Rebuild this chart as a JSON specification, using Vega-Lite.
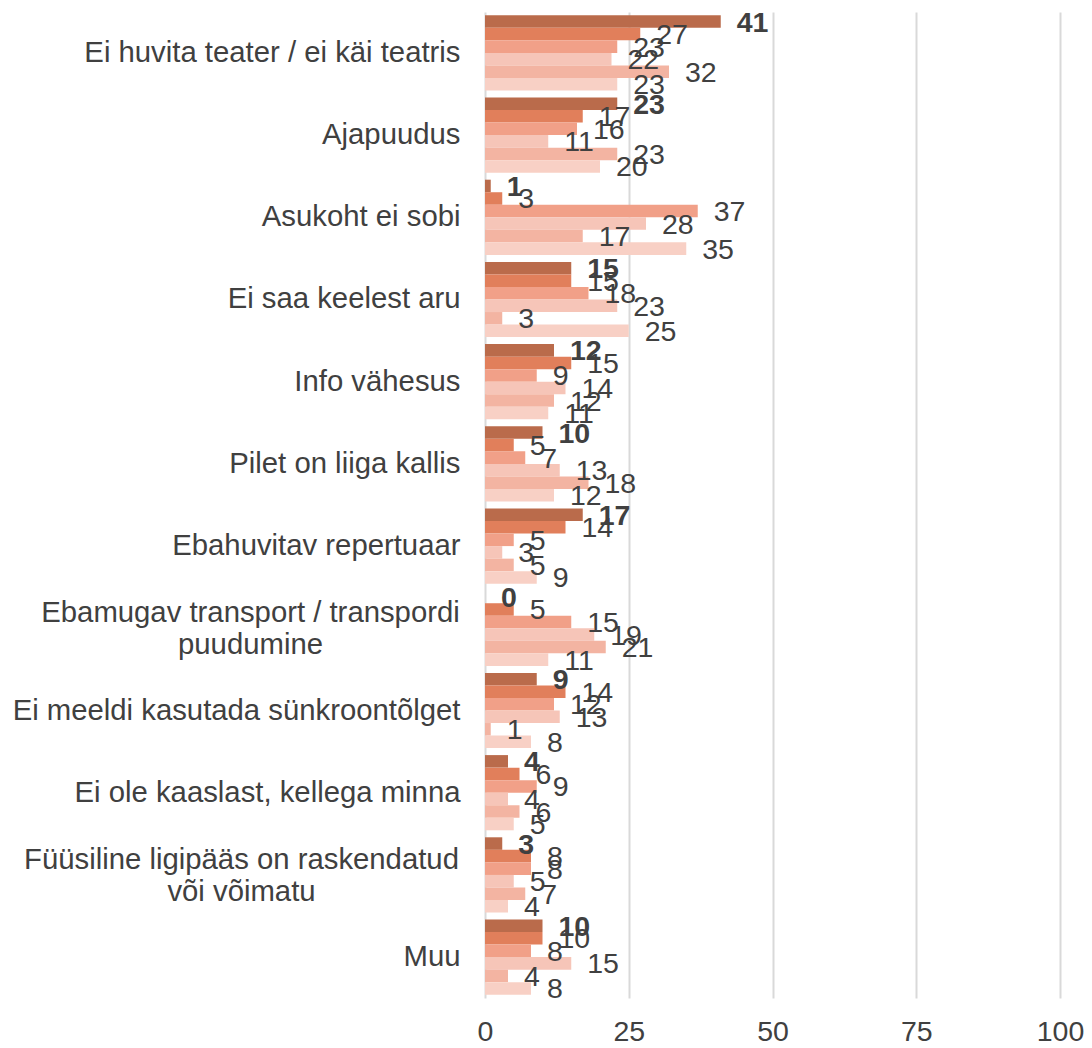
{
  "$schema": "https://vega.github.io/schema/vega-lite/v6.json",
  "width": 575,
  "height": 986,
  "autosize": "none",
  "padding": {"left": 485, "top": 12, "right": 32, "bottom": 50},
  "background": "white",
  "data": {"values": [
    {"category": "Ei huvita teater / ei käi teatris", "series": "S1", "value": 41},
    {"category": "Ei huvita teater / ei käi teatris", "series": "S2", "value": 27},
    {"category": "Ei huvita teater / ei käi teatris", "series": "S3", "value": 23},
    {"category": "Ei huvita teater / ei käi teatris", "series": "S4", "value": 22},
    {"category": "Ei huvita teater / ei käi teatris", "series": "S5", "value": 32},
    {"category": "Ei huvita teater / ei käi teatris", "series": "S6", "value": 23},
    {"category": "Ajapuudus", "series": "S1", "value": 23},
    {"category": "Ajapuudus", "series": "S2", "value": 17},
    {"category": "Ajapuudus", "series": "S3", "value": 16},
    {"category": "Ajapuudus", "series": "S4", "value": 11},
    {"category": "Ajapuudus", "series": "S5", "value": 23},
    {"category": "Ajapuudus", "series": "S6", "value": 20},
    {"category": "Asukoht ei sobi", "series": "S1", "value": 1},
    {"category": "Asukoht ei sobi", "series": "S2", "value": 3},
    {"category": "Asukoht ei sobi", "series": "S3", "value": 37},
    {"category": "Asukoht ei sobi", "series": "S4", "value": 28},
    {"category": "Asukoht ei sobi", "series": "S5", "value": 17},
    {"category": "Asukoht ei sobi", "series": "S6", "value": 35},
    {"category": "Ei saa keelest aru", "series": "S1", "value": 15},
    {"category": "Ei saa keelest aru", "series": "S2", "value": 15},
    {"category": "Ei saa keelest aru", "series": "S3", "value": 18},
    {"category": "Ei saa keelest aru", "series": "S4", "value": 23},
    {"category": "Ei saa keelest aru", "series": "S5", "value": 3},
    {"category": "Ei saa keelest aru", "series": "S6", "value": 25},
    {"category": "Info vähesus", "series": "S1", "value": 12},
    {"category": "Info vähesus", "series": "S2", "value": 15},
    {"category": "Info vähesus", "series": "S3", "value": 9},
    {"category": "Info vähesus", "series": "S4", "value": 14},
    {"category": "Info vähesus", "series": "S5", "value": 12},
    {"category": "Info vähesus", "series": "S6", "value": 11},
    {"category": "Pilet on liiga kallis", "series": "S1", "value": 10},
    {"category": "Pilet on liiga kallis", "series": "S2", "value": 5},
    {"category": "Pilet on liiga kallis", "series": "S3", "value": 7},
    {"category": "Pilet on liiga kallis", "series": "S4", "value": 13},
    {"category": "Pilet on liiga kallis", "series": "S5", "value": 18},
    {"category": "Pilet on liiga kallis", "series": "S6", "value": 12},
    {"category": "Ebahuvitav repertuaar", "series": "S1", "value": 17},
    {"category": "Ebahuvitav repertuaar", "series": "S2", "value": 14},
    {"category": "Ebahuvitav repertuaar", "series": "S3", "value": 5},
    {"category": "Ebahuvitav repertuaar", "series": "S4", "value": 3},
    {"category": "Ebahuvitav repertuaar", "series": "S5", "value": 5},
    {"category": "Ebahuvitav repertuaar", "series": "S6", "value": 9},
    {"category": "Ebamugav transport / transpordi puudumine", "series": "S1", "value": 0},
    {"category": "Ebamugav transport / transpordi puudumine", "series": "S2", "value": 5},
    {"category": "Ebamugav transport / transpordi puudumine", "series": "S3", "value": 15},
    {"category": "Ebamugav transport / transpordi puudumine", "series": "S4", "value": 19},
    {"category": "Ebamugav transport / transpordi puudumine", "series": "S5", "value": 21},
    {"category": "Ebamugav transport / transpordi puudumine", "series": "S6", "value": 11},
    {"category": "Ei meeldi kasutada sünkroontõlget", "series": "S1", "value": 9},
    {"category": "Ei meeldi kasutada sünkroontõlget", "series": "S2", "value": 14},
    {"category": "Ei meeldi kasutada sünkroontõlget", "series": "S3", "value": 12},
    {"category": "Ei meeldi kasutada sünkroontõlget", "series": "S4", "value": 13},
    {"category": "Ei meeldi kasutada sünkroontõlget", "series": "S5", "value": 1},
    {"category": "Ei meeldi kasutada sünkroontõlget", "series": "S6", "value": 8},
    {"category": "Ei ole kaaslast, kellega minna", "series": "S1", "value": 4},
    {"category": "Ei ole kaaslast, kellega minna", "series": "S2", "value": 6},
    {"category": "Ei ole kaaslast, kellega minna", "series": "S3", "value": 9},
    {"category": "Ei ole kaaslast, kellega minna", "series": "S4", "value": 4},
    {"category": "Ei ole kaaslast, kellega minna", "series": "S5", "value": 6},
    {"category": "Ei ole kaaslast, kellega minna", "series": "S6", "value": 5},
    {"category": "Füüsiline ligipääs on raskendatud või võimatu", "series": "S1", "value": 3},
    {"category": "Füüsiline ligipääs on raskendatud või võimatu", "series": "S2", "value": 8},
    {"category": "Füüsiline ligipääs on raskendatud või võimatu", "series": "S3", "value": 8},
    {"category": "Füüsiline ligipääs on raskendatud või võimatu", "series": "S4", "value": 5},
    {"category": "Füüsiline ligipääs on raskendatud või võimatu", "series": "S5", "value": 7},
    {"category": "Füüsiline ligipääs on raskendatud või võimatu", "series": "S6", "value": 4},
    {"category": "Muu", "series": "S1", "value": 10},
    {"category": "Muu", "series": "S2", "value": 10},
    {"category": "Muu", "series": "S3", "value": 8},
    {"category": "Muu", "series": "S4", "value": 15},
    {"category": "Muu", "series": "S5", "value": 4},
    {"category": "Muu", "series": "S6", "value": 8}
  ]},
  "encoding": {
    "y": {
      "field": "category", "type": "nominal", "sort": null, "title": null,
      "scale": {"paddingInner": 0.085, "paddingOuter": 0.04},
      "axis": {
        "domain": false, "ticks": false, "grid": false,
        "labelFont": "Liberation Sans", "labelFontSize": 29.3, "labelColor": "#404040",
        "labelLimit": 600, "labelLineHeight": 32,
        "labelAlign": {"condition": {"test": "indexof(datum.value, 'Ebamugav') == 0 || indexof(datum.value, 'Füüsiline') == 0", "value": "center"}, "value": "right"},
        "labelOffset": {"condition": {"test": "indexof(datum.value, 'Ebamugav') == 0 || indexof(datum.value, 'Füüsiline') == 0", "value": -15}, "value": 0},
        "labelPadding": {"condition": [
          {"test": "indexof(datum.value, 'Ebamugav') == 0", "value": 235},
          {"test": "indexof(datum.value, 'Füüsiline') == 0", "value": 244}
        ], "value": 25},
        "labelExpr": "datum.value == 'Ebamugav transport / transpordi puudumine' ? ['Ebamugav transport / transpordi', 'puudumine'] : datum.value == 'Füüsiline ligipääs on raskendatud või võimatu' ? ['Füüsiline ligipääs on raskendatud', 'või võimatu'] : datum.value"
      }
    },
    "yOffset": {"field": "series", "type": "nominal", "sort": null, "scale": {"paddingInner": 0, "paddingOuter": 0}},
    "x": {
      "field": "value", "type": "quantitative", "title": null,
      "scale": {"domain": [0, 100], "nice": false},
      "axis": {
        "values": [0, 25, 50, 75, 100], "domain": false, "ticks": false,
        "grid": true, "gridColor": "#D9D9D9", "gridWidth": 2,
        "labelFont": "Liberation Sans", "labelFontSize": 28.5, "labelColor": "#404040",
        "labelPadding": 19, "labelFlush": false
      }
    }
  },
  "layer": [
    {
      "mark": {"type": "bar"},
      "encoding": {
        "color": {
          "field": "series", "type": "nominal", "legend": null,
          "scale": {"domain": ["S1", "S2", "S3", "S4", "S5", "S6"],
                    "range": ["#BA6B4B", "#E17F5B", "#F1A088", "#F6C5B8", "#F3B4A2", "#F8D0C5"]}
        }
      }
    },
    {
      "transform": [{"filter": "datum.series == 'S1'"}],
      "mark": {"type": "text", "align": "left", "baseline": "middle", "dx": 16, "dy": 1,
               "font": "Liberation Sans", "fontSize": 28.5, "fontWeight": "bold", "color": "#404040"},
      "encoding": {"text": {"field": "value", "type": "quantitative"}}
    },
    {
      "transform": [{"filter": "datum.series != 'S1'"}],
      "mark": {"type": "text", "align": "left", "baseline": "middle", "dx": 16, "dy": 1,
               "font": "Liberation Sans", "fontSize": 28.5, "color": "#404040"},
      "encoding": {"text": {"field": "value", "type": "quantitative"}}
    }
  ],
  "config": {"view": {"stroke": null}}
}
